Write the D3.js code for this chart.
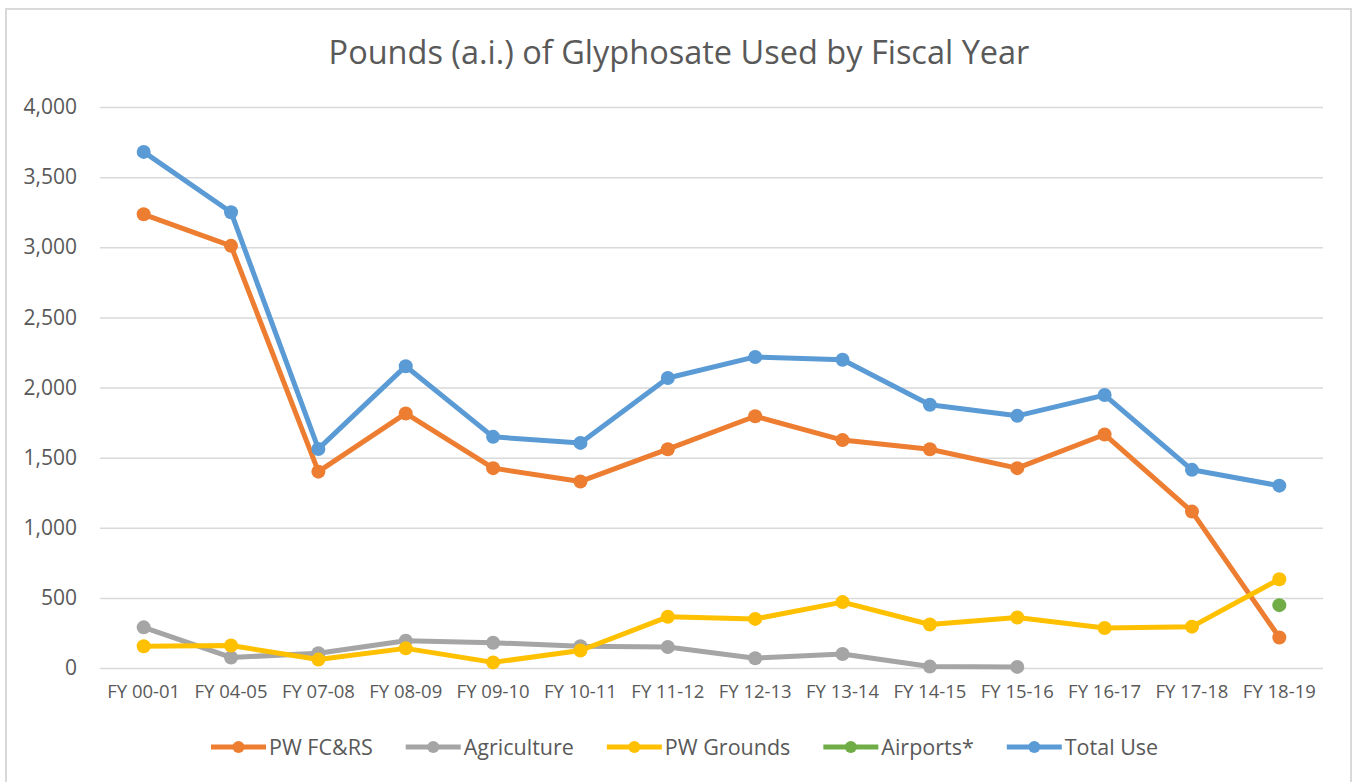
<html>
<head>
    <script src="https://d3js.org/d3.v7.min.js"></script>
    <style>
        html, body {
            margin: 0px;
            padding: 0px;
            background-color: white;
        }
        text {
            font-family: "Open Sans", sans-serif;
            fill: #595959;
        }
    </style>
</head>
<body>
    <div id="chart"></div>
    <script>
        const years = ["FY 00-01", "FY 04-05", "FY 07-08", "FY 08-09", "FY 09-10", "FY 10-11", "FY 11-12",
                       "FY 12-13", "FY 13-14", "FY 14-15", "FY 15-16", "FY 16-17", "FY 17-18", "FY 18-19"];
        const pwFcrs      = [3235, 3010, 1400, 1815, 1425, 1330, 1560, 1795, 1625, 1560, 1425, 1665, 1115, 218];
        const agriculture = [290, 75, 105, 195, 180, 155, 150, 70, 100, 10, 8, null, null, null];
        const pwGrounds   = [155, 160, 60, 140, 40, 125, 365, 350, 470, 310, 360, 285, 295, 633];
        const airports    = [null, null, null, null, null, null, null, null, null, null, null, null, null, 448];
        const totalUse    = [3680, 3250, 1562, 2152, 1648, 1605, 2068, 2218, 2198, 1877, 1798, 1946, 1413, 1300];
        const yTicks = [0, 500, 1000, 1500, 2000, 2500, 3000, 3500, 4000];

        const series = [
            { name: "PW FC&RS", values: pwFcrs, color: "#ED7D31" },
            { name: "Agriculture", values: agriculture, color: "#A5A5A5" },
            { name: "PW Grounds", values: pwGrounds, color: "#FFC000" },
            { name: "Airports*", values: airports, color: "#70AD47" },
            { name: "Total Use", values: totalUse, color: "#5B9BD5" }
        ];

        const W = 1352, H = 782;
        const margin = { top: 107, right: 29, bottom: 114, left: 100 };
        const width = W - margin.left - margin.right,
              height = H - margin.top - margin.bottom;

        const root = d3.select("#chart")
            .append("svg")
                .attr("width", W)
                .attr("height", H);

        // outer chart border
        root.append("rect")
            .attr("x", 6).attr("y", 9)
            .attr("width", 1345).attr("height", 790)
            .attr("fill", "white")
            .attr("stroke", "#D9D9D9")
            .attr("stroke-width", 2);

        root.append("text")
            .attr("x", 679)
            .attr("y", 64)
            .attr("text-anchor", "middle")
            .attr("font-size", 32.5)
            .text("Pounds (a.i.) of Glyphosate Used by Fiscal Year");

        const svg = root.append("g")
            .attr("transform", "translate(" + margin.left + "," + margin.top + ")");

        const x = d3.scaleBand()
            .domain(years)
            .range([0, width]);

        const y = d3.scaleLinear()
            .domain([0, 4000])
            .range([height, 0]);

        // Y axis with gridlines
        svg.append("g")
            .call(d3.axisLeft(y)
                .tickValues(yTicks)
                .tickSize(-width)
                .tickPadding(23)
                .tickFormat(d3.format(",")))
            .call(g => g.select(".domain").remove())
            .call(g => g.selectAll(".tick line").attr("stroke", "#D9D9D9").attr("stroke-width", 1.5))
            .call(g => g.selectAll(".tick text")
                .attr("font-size", 21)
                .attr("font-family", "Open Sans, sans-serif")
                .attr("fill", "#595959"));

        // X axis
        svg.append("g")
            .attr("transform", "translate(0," + height + ")")
            .call(d3.axisBottom(x).tickSize(0).tickPadding(17))
            .call(g => g.select(".domain").remove())
            .call(g => g.selectAll(".tick text")
                .attr("font-size", 18.5)
                .attr("font-family", "Open Sans, sans-serif")
                .attr("fill", "#595959"));

        const cx = i => x(years[i]) + x.bandwidth() / 2;

        const line = d3.line()
            .defined(d => d != null)
            .x((d, i) => cx(i))
            .y(d => y(d));

        series.forEach(s => {
            svg.append("path")
                .datum(s.values)
                .attr("fill", "none")
                .attr("stroke", s.color)
                .attr("stroke-width", 5)
                .attr("stroke-linejoin", "round")
                .attr("d", line);

            svg.append("g")
                .selectAll("circle")
                .data(s.values.map((v, i) => ({ v, i })).filter(d => d.v != null))
                .enter()
                .append("circle")
                    .attr("cx", d => cx(d.i))
                    .attr("cy", d => y(d.v))
                    .attr("r", 7)
                    .attr("fill", s.color);
        });

        // Legend
        const legend = root.append("g")
            .attr("transform", "translate(211,747)");
        let lx = 0;
        series.forEach(s => {
            const item = legend.append("g").attr("transform", "translate(" + lx + ",0)");
            item.append("line")
                .attr("x1", 0).attr("x2", 55)
                .attr("y1", 0).attr("y2", 0)
                .attr("stroke", s.color)
                .attr("stroke-width", 5);
            item.append("circle")
                .attr("cx", 27.5).attr("cy", 0).attr("r", 6)
                .attr("fill", s.color);
            const t = item.append("text")
                .attr("x", 58)
                .attr("y", 7.5)
                .attr("font-size", 21.5)
                .text(s.name);
            lx += 58 + t.node().getComputedTextLength() + 33;
        });
    </script>
</body>
</html>
